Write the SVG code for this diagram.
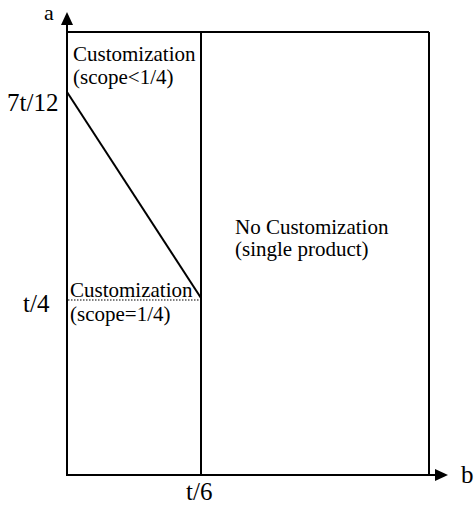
<svg xmlns="http://www.w3.org/2000/svg" width="476" height="512" viewBox="0 0 476 512">
<style>
text{font-family:'Liberation Serif','Times New Roman','DejaVu Serif',serif;font-size:21px;fill:#000}
text.ax{font-size:25px}
.ln{stroke:#000;stroke-width:2;fill:none}
</style>
<rect width="476" height="512" fill="#fff"/>
<g id="connectors">
<line class="ln" x1="67" y1="475" x2="67" y2="22"/>
<polygon points="67,12 61,25 73,25" fill="#000"/>
<line class="ln" x1="66" y1="475" x2="438" y2="475"/>
<polygon points="448,475 435,469 435,481" fill="#000"/>
<line class="ln" x1="67" y1="32" x2="429" y2="32"/>
<line class="ln" x1="201" y1="32" x2="201" y2="475"/>
<line class="ln" x1="429" y1="32" x2="429" y2="475"/>
<line class="ln" x1="67" y1="92" x2="201" y2="298"/>
<line x1="68" y1="300" x2="201" y2="300" stroke="#000" stroke-width="1.2" stroke-dasharray="1.5,1.5"/>
</g>
<g id="axis-labels">
<text class="ax" x="44" y="20" style="font-size:22px">a</text>
<text class="ax" x="461" y="483">b</text>
<text class="ax" x="7" y="111">7t/12</text>
<text class="ax" x="23" y="312">t/4</text>
<text class="ax" x="186" y="500">t/6</text>
</g>
<g id="region-top">
<text x="73" y="61">Customization</text>
<text x="73" y="84">(scope&lt;1/4)</text>
</g>
<g id="region-bottom">
<text x="70" y="297">Customization</text>
<text x="70" y="321">(scope=1/4)</text>
</g>
<g id="region-right">
<text x="235" y="234">No Customization</text>
<text x="235" y="256">(single product)</text>
</g>
</svg>
